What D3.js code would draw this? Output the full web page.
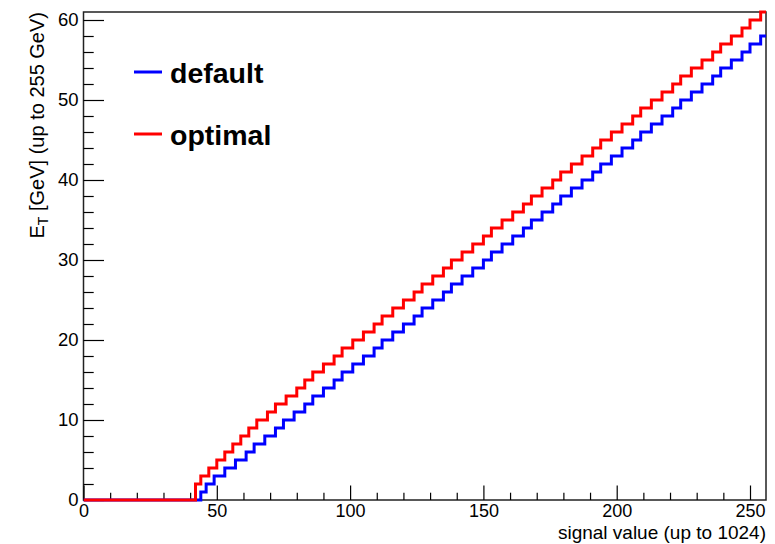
<!DOCTYPE html>
<html>
<head>
<meta charset="utf-8">
<script src="https://cdn.jsdelivr.net/npm/d3@7"></script>
<style>
  html, body { margin: 0; padding: 0; background: #fff; }
  svg { display: block; font-family: "Liberation Sans", Arial, Helvetica, sans-serif; }
</style>
</head>
<body>
<svg id="chart" width="775" height="544"></svg>
<script>
// ---- data ----
const seriesNames = ["default", "optimal"];
const seriesColors = ["#0000ff", "#ff0000"];
// x position (signal value) where each ET step starts
const defaultStepX = [44,46,49,53,57,61,64,68,72,75,79,83,86,90,94,97,101,105,109,112,116,120,124,127,131,135,138,142,146,150,153,157,161,165,168,172,176,179,183,187,191,194,198,202,206,209,213,217,221,224,228,232,236,239,243,247,250,254];
const defaultStepET = [1,2,3,4,5,6,7,8,9,10,11,12,13,14,15,16,17,18,19,20,21,22,23,24,25,26,27,28,29,30,31,32,33,34,35,36,37,38,39,40,41,42,43,44,45,46,47,48,49,50,51,52,53,54,55,56,57,58];
const optimalStepX = [42,44,47,50,53,56,59,62,65,69,72,76,80,83,86,90,94,97,101,105,109,112,116,120,124,127,131,135,138,142,146,150,153,157,161,165,168,172,176,179,183,187,191,194,198,202,206,209,213,217,221,224,228,232,236,239,243,247,250,254];
const optimalStepET = [2,3,4,5,6,7,8,9,10,11,12,13,14,15,16,17,18,19,20,21,22,23,24,25,26,27,28,29,30,31,32,33,34,35,36,37,38,39,40,41,42,43,44,45,46,47,48,49,50,51,52,53,54,55,56,57,58,59,60,61];
const xDomain = [0, 256];
const yDomain = [0, 61];
const xTickValues = [0, 50, 100, 150, 200, 250];
const yTickValues = [0, 10, 20, 30, 40, 50, 60];
const xTitle = "signal value (up to 1024)";

// ---- layout ----
const svg = d3.select("#chart");
const L = 83.5, R = 766, T = 12, B = 500;
const x = d3.scaleLinear().domain(xDomain).range([L, R]);
const y = d3.scaleLinear().domain(yDomain).range([B, T]);

function buildPoints(sx, se) {
  const pts = [[xDomain[0], 0]];
  sx.forEach((v, i) => pts.push([v, se[i]]));
  pts.push([xDomain[1], se[se.length - 1]]);
  return pts;
}
const series = [
  buildPoints(defaultStepX, defaultStepET),
  buildPoints(optimalStepX, optimalStepET)
];

// frame
svg.append("rect").attr("x", L).attr("y", T).attr("width", R - L).attr("height", B - T)
  .attr("fill", "none").attr("stroke", "#222").attr("stroke-width", 1.5);

// ---- axes ----
const axisColor = "#000";
const xMajorLen = 14.5, xMinorLen = 7.3, yMajorLen = 20.5, yMinorLen = 10.2;
const gx = svg.append("g").attr("transform", `translate(0,${B})`);
gx.call(d3.axisBottom(x).tickValues(d3.range(0, 257, 10)).tickSize(0).tickFormat(""))
  .call(g => g.select(".domain").remove());
gx.selectAll(".tick").each(function(d) {
  const major = d % 50 === 0;
  d3.select(this).select("line")
    .attr("y2", -(major ? xMajorLen : xMinorLen))
    .attr("stroke", axisColor).attr("stroke-width", 1.2);
});
const gxl = svg.append("g").attr("transform", `translate(0,${B})`);
gxl.call(d3.axisBottom(x).tickValues(xTickValues).tickSize(0).tickPadding(4).tickFormat(d3.format("d")))
  .call(g => g.select(".domain").remove());
gxl.selectAll("text").attr("font-size", 18).attr("fill", "#000")
  .attr("font-family", "Liberation Sans, Arial, sans-serif");

const gy = svg.append("g").attr("transform", `translate(${L},0)`);
gy.call(d3.axisLeft(y).tickValues(d3.range(0, 61, 2)).tickSize(0).tickFormat(""))
  .call(g => g.select(".domain").remove());
gy.selectAll(".tick").each(function(d) {
  const major = d % 10 === 0;
  d3.select(this).select("line")
    .attr("x2", major ? yMajorLen : yMinorLen)
    .attr("stroke", axisColor).attr("stroke-width", 1.2);
});
const gyl = svg.append("g").attr("transform", `translate(${L},0)`);
gyl.call(d3.axisLeft(y).tickValues(yTickValues).tickSize(0).tickPadding(5).tickFormat(d3.format("d")))
  .call(g => g.select(".domain").remove());
gyl.selectAll("text").attr("font-size", 18.5).attr("fill", "#000")
  .attr("font-family", "Liberation Sans, Arial, sans-serif");

// series (drawn over the frame, like the reference)
const clip = svg.append("clipPath").attr("id", "clip")
  .append("rect").attr("x", L).attr("y", T - 2).attr("width", R - L).attr("height", B - T + 4);
const line = d3.line().x(d => x(d[0])).y(d => y(d[1])).curve(d3.curveStepAfter);
series.forEach((pts, i) => {
  svg.append("path")
    .attr("d", line(pts))
    .attr("fill", "none")
    .attr("stroke", seriesColors[i])
    .attr("stroke-width", 3)
    .attr("clip-path", "url(#clip)");
});

// axis titles
svg.append("text").attr("x", R).attr("y", 539).attr("text-anchor", "end")
  .attr("font-size", 19).attr("fill", "#000").text(xTitle);

const yt = svg.append("text")
  .attr("transform", `translate(44,${T}) rotate(-90)`)
  .attr("text-anchor", "end").attr("font-size", 20).attr("fill", "#000");
yt.append("tspan").text("E");
yt.append("tspan").attr("font-size", 14).attr("dy", 4).text("T");
yt.append("tspan").attr("dy", -4).text(" [GeV] (up to 255 GeV)");

// legend
const legendY = [72, 134];
seriesNames.forEach((name, i) => {
  svg.append("line").attr("x1", 134).attr("x2", 162)
    .attr("y1", legendY[i]).attr("y2", legendY[i])
    .attr("stroke", seriesColors[i]).attr("stroke-width", 3);
  svg.append("text").attr("x", 170).attr("y", legendY[i] + 10.5)
    .attr("font-size", 28.5).attr("font-weight", "bold").attr("fill", "#000").text(name);
});
</script>
</body>
</html>
